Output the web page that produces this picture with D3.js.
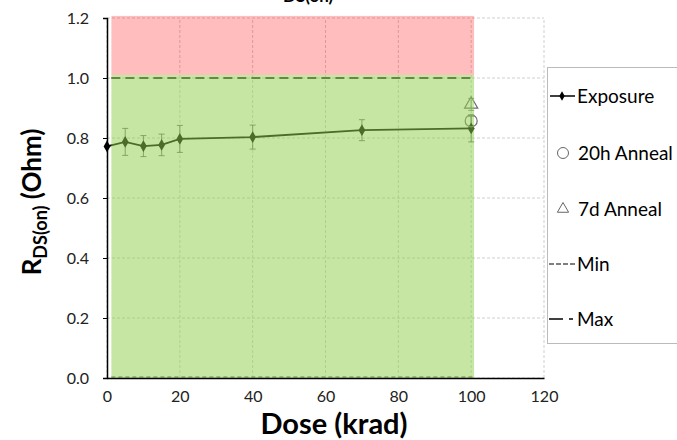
<!DOCTYPE html>
<html><head><meta charset="utf-8">
<script src="https://cdn.jsdelivr.net/npm/d3@7"></script>
<style>body{margin:0;background:#fff}svg{display:block}text{font-family:Lato,"Open Sans",sans-serif}</style>
</head><body>
<svg id="c" width="677" height="440"></svg>
<script>
const doses = [0, 5, 10, 15, 20, 40, 70, 100];
const exposure = [0.772, 0.787, 0.773, 0.777, 0.797, 0.803, 0.826, 0.832];
const exposureErr = [0, 0.045, 0.035, 0.036, 0.045, 0.040, 0.035, 0.045];
const anneal20hDose = [100];
const anneal20h = [0.857];
const anneal20hErr = [0.015];
const anneal7dDose = [100];
const anneal7d = [0.912];
const anneal7dErr = [0.02];
const minLimit = 0.0;
const maxLimit = 1.0;
const passBand = [1.2, 100.8, 0, 1.01];
const failBand = [1.2, 100.8, 1.01, 1.207];
const xTicks = [0, 20, 40, 60, 80, 100, 120];
const yTicks = [0, 0.2, 0.4, 0.6, 0.8, 1.0, 1.2];
const legendItems = ["Exposure", "20h Anneal", "7d Anneal", "Min", "Max"];

const svg = d3.select("#c");
const x = d3.scaleLinear().domain([0, 120]).range([107, 544]);
const y = d3.scaleLinear().domain([0, 1.2]).range([378, 18]);

// title (clipped at top edge, as in the reference)
svg.append("text").attr("x", 345).attr("y", -1).attr("text-anchor", "middle")
  .attr("font-size", 24).attr("font-weight", "bold").attr("fill", "#000")
  .html('R<tspan font-size="17" dy="3">DS(on)</tspan><tspan dy="-3"> vs Dose</tspan>');

// gridlines
const grid = svg.append("g");
yTicks.forEach(t => {
  grid.append("line").attr("x1", x(0)).attr("x2", x(120)).attr("y1", y(t)).attr("y2", y(t))
    .attr("stroke", "#cfcfcf").attr("stroke-width", 1).attr("stroke-dasharray", "3,2");
});
xTicks.forEach(t => {
  grid.append("line").attr("x1", x(t)).attr("x2", x(t)).attr("y1", y(0)).attr("y2", y(1.2))
    .attr("stroke", "#cfcfcf").attr("stroke-width", 1).attr("stroke-dasharray", "3,2");
});

// min / max lines
svg.append("line").attr("x1", x(passBand[0])).attr("x2", x(passBand[1])).attr("y1", y(maxLimit)).attr("y2", y(maxLimit))
  .attr("stroke", "#3a3a3a").attr("stroke-width", 2).attr("stroke-dasharray", "9,5");
svg.append("line").attr("x1", x(passBand[0])).attr("x2", x(passBand[1])).attr("y1", y(minLimit) - 1).attr("y2", y(minLimit) - 1)
  .attr("stroke", "#3a3a3a").attr("stroke-width", 1).attr("stroke-dasharray", "4,3");

// exposure line
const line = d3.line().x((d, i) => x(doses[i])).y(d => y(d));
svg.append("path").datum(exposure).attr("d", line).attr("fill", "none").attr("stroke", "#000").attr("stroke-width", 1.8);

function errBars(xs, ys, es, color) {
  xs.forEach((xv, i) => {
    if (!es[i]) return;
    const cx = x(xv);
    svg.append("line").attr("x1", cx).attr("x2", cx).attr("y1", y(ys[i] - es[i])).attr("y2", y(ys[i] + es[i])).attr("stroke", color).attr("stroke-width", 0.8);
    [ys[i] - es[i], ys[i] + es[i]].forEach(v => {
      svg.append("line").attr("x1", cx - 3).attr("x2", cx + 3).attr("y1", y(v)).attr("y2", y(v)).attr("stroke", color).attr("stroke-width", 0.8);
    });
  });
}
errBars(doses, exposure, exposureErr, "#555");
errBars(anneal20hDose, anneal20h, anneal20hErr, "#777");
errBars(anneal7dDose, anneal7d, anneal7dErr, "#777");

const diamond = d3.symbol().type(d3.symbolDiamond).size(40);
svg.selectAll(".dm").data(exposure).enter().append("path")
  .attr("transform", (d, i) => `translate(${x(doses[i])},${y(d)})`).attr("d", diamond).attr("fill", "#000");

svg.selectAll(".c20").data(anneal20h).enter().append("circle")
  .attr("cx", (d, i) => x(anneal20hDose[i])).attr("cy", d => y(d)).attr("r", 6)
  .attr("fill", "none").attr("stroke", "#6e6e6e").attr("stroke-width", 1.2);
const tri = d3.symbol().type(d3.symbolTriangle).size(75);
svg.selectAll(".t7").data(anneal7d).enter().append("path")
  .attr("transform", (d, i) => `translate(${x(anneal7dDose[i])},${y(d)})`).attr("d", tri)
  .attr("fill", "none").attr("stroke", "#6e6e6e").attr("stroke-width", 1.2);

// colored bands (overlay)
svg.append("rect").attr("x", x(failBand[0])).attr("width", x(failBand[1]) - x(failBand[0]))
  .attr("y", y(failBand[3])).attr("height", y(failBand[2]) - y(failBand[3]))
  .attr("fill", "#ff0000").attr("fill-opacity", 0.26);
svg.append("rect").attr("x", x(passBand[0])).attr("width", x(passBand[1]) - x(passBand[0]))
  .attr("y", y(passBand[3])).attr("height", y(passBand[2]) - y(passBand[3]))
  .attr("fill", "#92D050").attr("fill-opacity", 0.52);

// axes
const xAxis = svg.append("g").attr("transform", `translate(0,${y(0)})`)
  .call(d3.axisBottom(x).tickValues(xTicks).tickSize(0).tickPadding(13).tickFormat(d3.format("d")));
xAxis.select(".domain").attr("stroke", "#000").attr("stroke-width", 1.5);
const yAxis = svg.append("g").attr("transform", `translate(${x(0)},0)`)
  .call(d3.axisLeft(y).tickValues(yTicks).tickSize(4).tickPadding(14).tickFormat(d3.format(".1f")));
yAxis.select(".domain").attr("stroke", "#000").attr("stroke-width", 1.5);
svg.selectAll(".tick text").attr("font-size", 16).attr("fill", "#222").style("font-family", "Lato, sans-serif");
svg.selectAll(".tick line").attr("stroke", "#000");

// axis titles
svg.append("text").attr("x", 334).attr("y", 434).attr("text-anchor", "middle")
  .attr("font-size", 29).attr("font-weight", "bold").text("Dose (krad)");
svg.append("text").attr("transform", "translate(41,202) rotate(-90)").attr("text-anchor", "middle")
  .attr("font-size", 26).attr("font-weight", "bold")
  .html('R<tspan font-size="18" dy="6">DS(on)</tspan><tspan dy="-6"> (Ohm)</tspan>');

// legend
svg.append("rect").attr("x", 547.5).attr("y", 67.5).attr("width", 140).attr("height", 276)
  .attr("fill", "#fff").attr("stroke", "#bbb").attr("stroke-width", 1);
const ly = [96, 153, 209, 264, 319];
const lg = svg.append("g").attr("font-size", 19).attr("fill", "#000");
// Exposure
lg.append("line").attr("x1", 550).attr("x2", 575).attr("y1", ly[0]).attr("y2", ly[0]).attr("stroke", "#000").attr("stroke-width", 1.5);
lg.append("path").attr("transform", `translate(562,${ly[0]})`).attr("d", d3.symbol().type(d3.symbolDiamond).size(25)).attr("fill", "#000");
lg.append("text").attr("x", 577).attr("y", ly[0] + 7).text(legendItems[0]);
// 20h
lg.append("circle").attr("cx", 563).attr("cy", ly[1]).attr("r", 5.5).attr("fill", "none").attr("stroke", "#666").attr("stroke-width", 1);
lg.append("text").attr("x", 578).attr("y", ly[1] + 7).text(legendItems[1]);
// 7d
lg.append("path").attr("transform", `translate(563,${ly[2]})`).attr("d", d3.symbol().type(d3.symbolTriangle).size(55)).attr("fill", "none").attr("stroke", "#666").attr("stroke-width", 1);
lg.append("text").attr("x", 578).attr("y", ly[2] + 7).text(legendItems[2]);
// Min
lg.append("line").attr("x1", 549).attr("x2", 576).attr("y1", ly[3]).attr("y2", ly[3]).attr("stroke", "#000").attr("stroke-width", 1.2).attr("stroke-dasharray", "5,2");
lg.append("text").attr("x", 577).attr("y", ly[3] + 7).text(legendItems[3]);
// Max
lg.append("line").attr("x1", 549).attr("x2", 563).attr("y1", ly[4]).attr("y2", ly[4]).attr("stroke", "#000").attr("stroke-width", 1.5);
lg.append("line").attr("x1", 569).attr("x2", 573).attr("y1", ly[4]).attr("y2", ly[4]).attr("stroke", "#000").attr("stroke-width", 1.5);
lg.append("text").attr("x", 577).attr("y", ly[4] + 7).text(legendItems[4]);
</script>
</body></html>
